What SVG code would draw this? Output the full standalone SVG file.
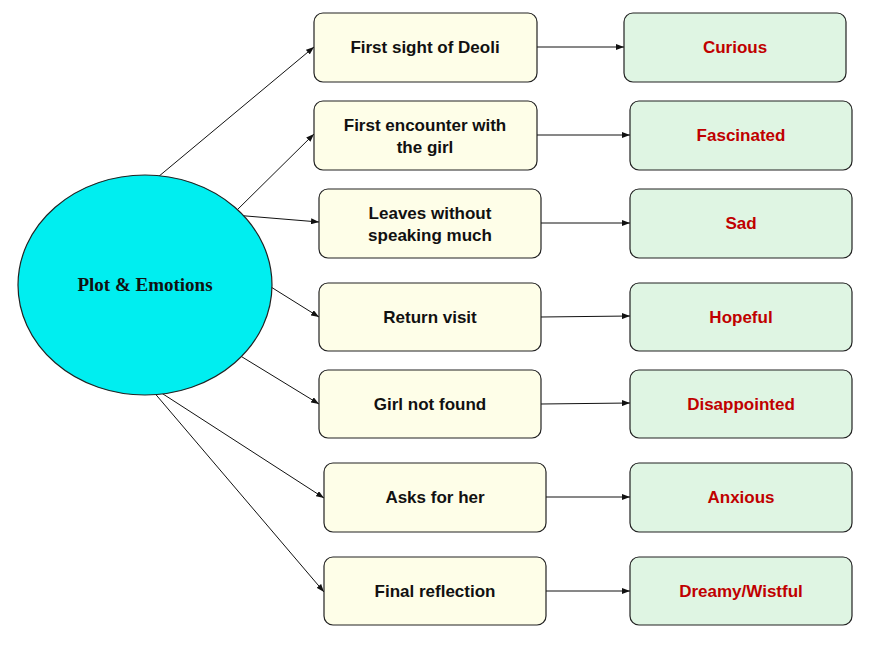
<svg xmlns="http://www.w3.org/2000/svg" width="872" height="645" viewBox="0 0 872 645">
<style>
.ev{fill:#fefee8;stroke:#222;stroke-width:1.2}
.em{fill:#dff5e3;stroke:#222;stroke-width:1.2}
.t{font-family:"Liberation Sans",Arial,sans-serif;font-weight:bold;font-size:17px;text-anchor:middle;fill:#111}
.r{fill:#c00000}
.c line{stroke:#111;stroke-width:1;marker-end:url(#a)}
</style>
<defs><marker id="a" markerWidth="8" markerHeight="6" refX="8" refY="3" orient="auto" markerUnits="userSpaceOnUse"><path d="M0,0L8,3L0,6z" fill="#111"/></marker></defs>
<rect width="872" height="645" fill="#fff"/>
<g class="c">
<line x1="146" y1="187" x2="314" y2="47"/>
<line x1="234" y1="213" x2="314" y2="134"/>
<line x1="234" y1="215" x2="319" y2="222"/>
<line x1="271" y1="287" x2="319" y2="317"/>
<line x1="234" y1="352" x2="319" y2="404"/>
<line x1="146" y1="383" x2="324" y2="498"/>
<line x1="146" y1="383" x2="324" y2="592"/>
<line x1="537" y1="47" x2="624" y2="47"/>
<line x1="537" y1="135" x2="630" y2="135"/>
<line x1="541" y1="223" x2="630" y2="223"/>
<line x1="541" y1="317" x2="630" y2="316"/>
<line x1="541" y1="404" x2="630" y2="403"/>
<line x1="546" y1="497" x2="630" y2="497"/>
<line x1="546" y1="591" x2="630" y2="591"/>
</g>
<g id="center"><ellipse cx="145" cy="285" rx="127" ry="110" fill="#00eef0" stroke="#222" stroke-width="1.2"/><text x="145" y="291" font-family="Liberation Serif,serif" font-weight="bold" font-size="19" text-anchor="middle" fill="#111">Plot &amp; Emotions</text></g>
<g id="e1"><rect class="ev" x="314" y="13" width="223" height="69" rx="9"/><text class="t" x="425" y="53">First sight of Deoli</text></g>
<g id="e2"><rect class="ev" x="314" y="101" width="223" height="69" rx="9"/><text class="t" x="425" y="131">First encounter with</text><text class="t" x="425" y="153">the girl</text></g>
<g id="e3"><rect class="ev" x="319" y="189" width="222" height="69" rx="9"/><text class="t" x="430" y="219">Leaves without</text><text class="t" x="430" y="241">speaking much</text></g>
<g id="e4"><rect class="ev" x="319" y="283" width="222" height="68" rx="9"/><text class="t" x="430" y="323">Return visit</text></g>
<g id="e5"><rect class="ev" x="319" y="370" width="222" height="68" rx="9"/><text class="t" x="430" y="410">Girl not found</text></g>
<g id="e6"><rect class="ev" x="324" y="463" width="222" height="69" rx="9"/><text class="t" x="435" y="503">Asks for her</text></g>
<g id="e7"><rect class="ev" x="324" y="557" width="222" height="68" rx="9"/><text class="t" x="435" y="597">Final reflection</text></g>
<g id="m1"><rect class="em" x="624" y="13" width="222" height="69" rx="9"/><text class="t r" x="735" y="53">Curious</text></g>
<g id="m2"><rect class="em" x="630" y="101" width="222" height="69" rx="9"/><text class="t r" x="741" y="141">Fascinated</text></g>
<g id="m3"><rect class="em" x="630" y="189" width="222" height="69" rx="9"/><text class="t r" x="741" y="229">Sad</text></g>
<g id="m4"><rect class="em" x="630" y="283" width="222" height="68" rx="9"/><text class="t r" x="741" y="323">Hopeful</text></g>
<g id="m5"><rect class="em" x="630" y="370" width="222" height="68" rx="9"/><text class="t r" x="741" y="410">Disappointed</text></g>
<g id="m6"><rect class="em" x="630" y="463" width="222" height="69" rx="9"/><text class="t r" x="741" y="503">Anxious</text></g>
<g id="m7"><rect class="em" x="630" y="557" width="222" height="68" rx="9"/><text class="t r" x="741" y="597">Dreamy/Wistful</text></g>
</svg>
